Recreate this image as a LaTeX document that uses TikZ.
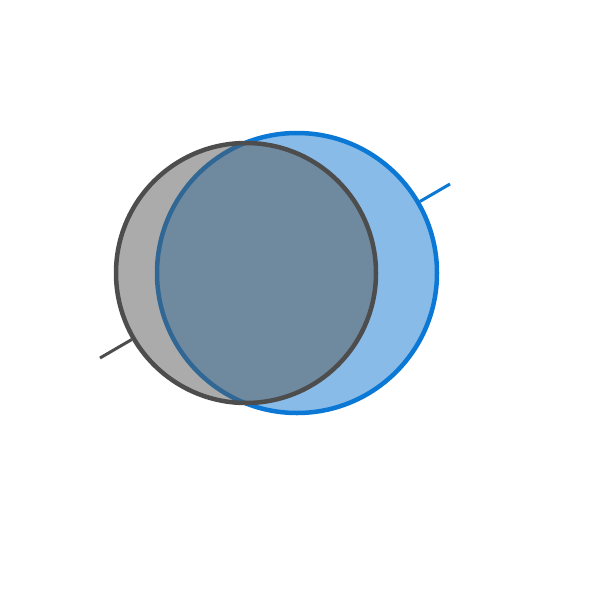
\documentclass[tikz,border=0pt]{standalone}
\begin{document}
\begin{tikzpicture}[x=1pt,y=-1pt,
  bluecirc/.style={circle,inner sep=0pt,minimum size=280pt,draw=blueline,line width=4.5pt,fill=bluefill},
  graycirc/.style={circle,inner sep=0pt,minimum size=260pt,draw=grayline,line width=4.5pt,fill=grayfill,fill opacity=0.5,draw opacity=1},
  blueconn/.style={draw=blueline,line width=3pt},
  grayconn/.style={draw=grayline,line width=3pt}]
\definecolor{blueline}{HTML}{0A78D4}
\definecolor{bluefill}{HTML}{88BBE8}
\definecolor{grayline}{HTML}{4D4D4D}
\definecolor{grayfill}{HTML}{575858}
\useasboundingbox (0,0) rectangle (600,600);
\node[bluecirc] (b) at (297,273) {};
\coordinate (bt) at (450,184);
\draw[blueconn] (b) -- (bt);
\node[graycirc] (g) at (246,273) {};
\coordinate (gt) at (100,358);
\draw[grayconn] (g) -- (gt);
\end{tikzpicture}
\end{document}
